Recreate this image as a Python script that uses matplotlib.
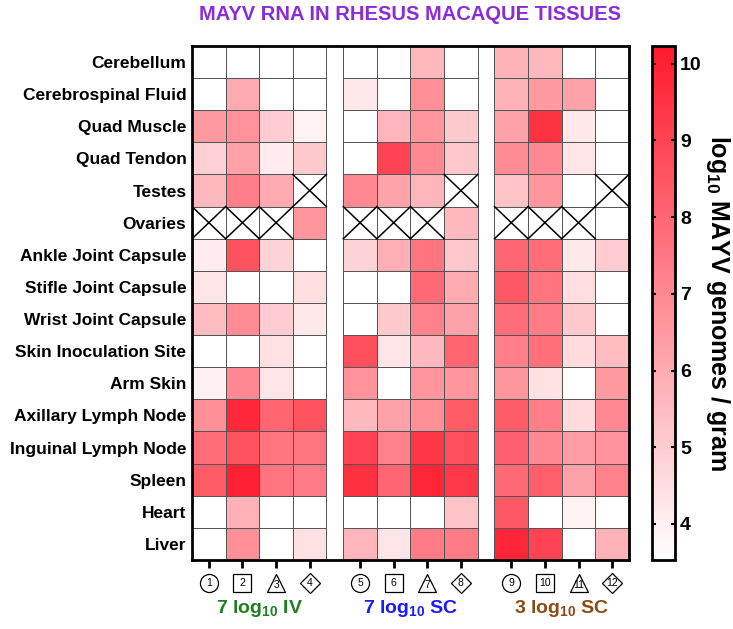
import matplotlib.pyplot as plt
import numpy as np
from matplotlib.colors import LinearSegmentedColormap, Normalize

plt.rcParams['font.family'] = ['Liberation Sans', 'DejaVu Sans']
plt.rcParams['mathtext.fontset'] = 'custom'
plt.rcParams['mathtext.rm'] = 'Liberation Sans:bold'
plt.rcParams['mathtext.bf'] = 'Liberation Sans:bold'

tissues = ['Cerebellum', 'Cerebrospinal Fluid', 'Quad Muscle', 'Quad Tendon', 'Testes',
           'Ovaries', 'Ankle Joint Capsule', 'Stifle Joint Capsule', 'Wrist Joint Capsule',
           'Skin Inoculation Site', 'Arm Skin', 'Axillary Lymph Node', 'Inguinal Lymph Node',
           'Spleen', 'Heart', 'Liver']
animals = [str(i) for i in range(1, 13)]
groups = ['7 log$_{10}$ IV', '7 log$_{10}$ SC', '3 log$_{10}$ SC']
group_colors = ['#1f7f1f', '#1a1aff', '#8b4a14']
shapes = ['o', 's', '^', 'D']

# log10 genomes/gram; 3.5 = below detection, nan = not applicable (X)
n = np.nan
vals = np.array([
    [3.5, 3.5, 3.5, 3.5,  3.5, 3.5, 5.6, 3.5,  5.8, 5.6, 3.5, 3.5],
    [3.5, 6.0, 3.5, 3.5,  4.2, 3.5, 6.8, 3.5,  5.8, 6.5, 6.3, 3.5],
    [6.5, 6.7, 5.0, 3.9,  3.5, 5.7, 6.6, 5.1,  6.3, 9.5, 4.2, 3.5],
    [4.9, 6.3, 4.1, 5.1,  3.5, 9.0, 7.0, 5.2,  6.9, 7.0, 4.3, 3.5],
    [5.6, 7.3, 6.0, n,    7.0, 6.2, 5.7, n,    5.3, 6.6, 3.5, n],
    [n,   n,   n,   6.6,  n,   n,   n,   5.6,  n,   n,   n,   3.5],
    [4.1, 8.6, 4.8, 3.5,  4.8, 5.9, 7.6, 5.2,  8.0, 7.8, 4.2, 5.0],
    [4.3, 3.5, 3.5, 4.5,  3.5, 3.5, 7.9, 6.0,  8.4, 7.6, 4.5, 3.5],
    [5.5, 6.9, 5.0, 4.2,  3.5, 5.1, 7.2, 6.3,  7.8, 7.4, 5.1, 3.5],
    [3.5, 3.5, 4.4, 3.5,  8.7, 4.3, 5.6, 8.0,  7.3, 7.7, 4.6, 5.5],
    [4.0, 7.0, 4.3, 3.5,  6.7, 3.5, 6.6, 6.6,  6.6, 4.4, 3.5, 6.5],
    [6.8, 9.8, 8.0, 8.6,  5.6, 6.3, 6.8, 8.3,  8.3, 7.3, 4.6, 7.0],
    [7.8, 8.6, 7.6, 7.6,  9.0, 7.2, 9.4, 8.7,  8.2, 7.0, 6.4, 6.7],
    [8.3, 10.0, 7.6, 7.4, 9.6, 8.0, 9.9, 9.3,  7.9, 8.2, 6.3, 7.2],
    [3.5, 5.8, 3.5, 3.5,  3.5, 3.5, 3.5, 5.3,  8.4, 3.5, 3.9, 3.5],
    [3.5, 6.8, 3.5, 4.4,  5.7, 4.3, 7.4, 7.4,  9.9, 9.0, 3.5, 5.8],
])

cmap = LinearSegmentedColormap.from_list('wr', ['#ffffff', '#ff1a2c'])
norm = Normalize(vmin=3.53, vmax=10.23)

fig = plt.figure(figsize=(7.33, 6.29), dpi=100)
ax = fig.add_axes([0.262, 0.1097, 0.596, 0.8172])
cax = fig.add_axes([0.8895, 0.1097, 0.0314, 0.8172])

nrows = len(tissues)
xcenters = []
for g in range(3):
    x0 = g * 4.5
    xe = x0 + np.arange(5)
    ye = np.arange(nrows + 1)
    block = np.ma.masked_invalid(vals[:, 4 * g:4 * g + 4])
    ax.pcolormesh(xe, ye, block, cmap=cmap, norm=norm, edgecolors='#555555', linewidth=0.7)
    for j in range(4):
        xcenters.append(x0 + j + 0.5)
        for i in range(nrows):
            if np.isnan(vals[i, 4 * g + j]):
                ax.add_patch(plt.Rectangle((x0 + j, i), 1, 1, facecolor='white',
                                           edgecolor='#555555', linewidth=0.7))
                ax.plot([x0 + j, x0 + j + 1], [i, i + 1], color='black', lw=1.1)
                ax.plot([x0 + j, x0 + j + 1], [i + 1, i], color='black', lw=1.1)

ax.set_xlim(0, 13)
ax.set_ylim(nrows, 0)
ax.set_yticks(np.arange(nrows) + 0.5)
ax.set_yticklabels(tissues, fontsize=12.5, fontweight='bold')
ax.tick_params(axis='y', length=0, pad=4)
ax.set_xticks(xcenters)
ax.set_xticklabels([])
ax.tick_params(axis='x', direction='out', length=6, width=2)
for s in ax.spines.values():
    s.set_linewidth(2)

# animal markers below the axis
trans = ax.get_xaxis_transform()
for k, xc in enumerate(xcenters):
    ax.plot(xc, -0.045, marker=shapes[k % 4], markersize=13 if shapes[k % 4] != 'D' else 10,
            markerfacecolor='white', markeredgecolor='black', markeredgewidth=0.9,
            transform=trans, clip_on=False)
    ax.text(xc, -0.045 - (0.004 if shapes[k % 4] == '^' else 0), animals[k], transform=trans,
            ha='center', va='center', fontsize=7.5, clip_on=False)

for g in range(3):
    ax.text(g * 4.5 + 2, -0.095, groups[g], transform=trans, ha='center', va='center',
            fontsize=14, fontweight='bold', color=group_colors[g])

fig.text(0.56, 0.977, 'MAYV RNA IN RHESUS MACAQUE TISSUES', ha='center', va='center',
         fontsize=14.5, fontweight='bold', color='#8b2bd9')

cb = fig.colorbar(plt.cm.ScalarMappable(norm=norm, cmap=cmap), cax=cax)
cb.outline.set_linewidth(2)
cb.set_ticks(range(4, 11))
cax.tick_params(direction='in', length=3, width=1.5, left=True, right=True, labelsize=14)
for lab in cax.get_yticklabels():
    lab.set_fontweight('bold')
cax.text(2.85, 0.5, 'log$_{10}$ MAYV genomes / gram', rotation=270, fontsize=18,
         fontweight='bold', transform=cax.transAxes, ha='center', va='center')

fig.savefig('out.png', dpi=100)
